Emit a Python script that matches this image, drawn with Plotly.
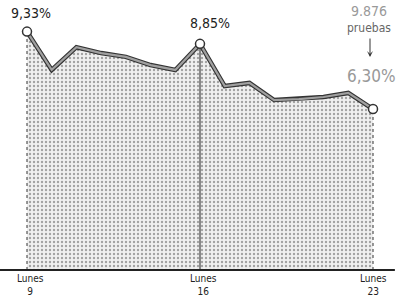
import plotly.graph_objects as go

days = [9, 10, 11, 12, 13, 14, 15, 16, 17, 18, 19, 20, 21, 22, 23]
values = [9.33, 7.83, 8.72, 8.49, 8.34, 8.02, 7.83, 8.85, 7.20, 7.32, 6.65, 6.69, 6.77, 6.93, 6.30]
tick_days = [9, 16, 23]
tick_labels = ["Lunes<br>9", "Lunes<br>16", "Lunes<br>23"]
value_labels = ["9,33%", "8,85%", "6,30%"]
tests_label = "9.876"
tests_word = "pruebas"

FONT = "DejaVu Sans Condensed, Roboto, sans-serif"

fig = go.Figure()
fig.add_trace(go.Scatter(
    x=days, y=values, mode="lines", fill="tozeroy",
    line=dict(color="rgba(0,0,0,0)", width=0),
    fillcolor="#eeeeee",
    fillpattern=dict(shape=".", fgcolor="#555555", bgcolor="#f0f0f0", size=4, solidity=0.28),
    hoverinfo="skip", showlegend=False))
fig.add_trace(go.Scatter(x=days, y=values, mode="lines",
                         line=dict(color="#333333", width=4.5), showlegend=False))
fig.add_trace(go.Scatter(x=days, y=values, mode="lines",
                         line=dict(color="#a0a0a0", width=2.2), showlegend=False))
fig.add_trace(go.Scatter(x=[days[0], days[0]], y=[0, values[0]], mode="lines",
                         line=dict(color="#333", width=1, dash="dot"), showlegend=False))
fig.add_trace(go.Scatter(x=[days[7], days[7]], y=[0, values[7]], mode="lines",
                         line=dict(color="#222", width=1), showlegend=False))
fig.add_trace(go.Scatter(x=[days[-1], days[-1]], y=[0, values[-1]], mode="lines",
                         line=dict(color="#333", width=1, dash="dot"), showlegend=False))
mk = [0, 7, 14]
fig.add_trace(go.Scatter(x=[days[i] for i in mk], y=[values[i] for i in mk], mode="markers",
                         marker=dict(size=9, color="white", line=dict(color="#333", width=1.5)),
                         showlegend=False))

fig.add_annotation(x=days[0], y=values[0], text=value_labels[0], showarrow=False,
                   xanchor="center", yanchor="bottom", yshift=9, xshift=4,
                   font=dict(family=FONT, size=14, color="#222"))
fig.add_annotation(x=days[7], y=values[7], text=value_labels[1], showarrow=False,
                   xanchor="center", yanchor="bottom", yshift=11, xshift=10,
                   font=dict(family=FONT, size=14, color="#222"))
fig.add_annotation(x=days[-1], y=values[-1], text=value_labels[2], showarrow=False,
                   xanchor="center", yanchor="bottom", yshift=21, xshift=-2,
                   font=dict(family=FONT, size=17, color="#999999"))
fig.add_annotation(x=days[-1], y=values[-1],
                   text=f"<span style='font-size:14px;color:#999'>{tests_label}</span><br>{tests_word}",
                   showarrow=False, xanchor="center", yanchor="bottom", yshift=72, xshift=-4,
                   font=dict(family=FONT, size=12, color="#666"))
fig.add_annotation(x=days[-1], y=values[-1], ax=0, ay=-20, xshift=-3, yshift=52,
                   axref="pixel", ayref="pixel", text="", showarrow=True,
                   arrowhead=3, arrowsize=1, arrowwidth=1, arrowcolor="#333")

for d, t in zip(tick_days, tick_labels):
    fig.add_annotation(x=d, y=0, text=t, showarrow=False, yanchor="top", yshift=-1,
                       xshift=3 if d != 23 else 0,
                       font=dict(family=FONT, size=10, color="#222"))

fig.add_shape(type="line", xref="paper", yref="y", x0=0.0, x1=0.975, y0=0, y1=0,
              line=dict(color="#222", width=2))

fig.update_layout(
    width=405, height=297, margin=dict(l=0, r=0, t=0, b=0),
    paper_bgcolor="white", plot_bgcolor="white",
    xaxis=dict(range=[7.907, 24.295], visible=False, showgrid=False),
    yaxis=dict(range=[-1.057, 10.567], visible=False, showgrid=False),
    showlegend=False,
)
fig.write_html("out.html", config={"displayModeBar": False},
               post_script="document.body.style.margin='0';document.body.style.padding='0';")
